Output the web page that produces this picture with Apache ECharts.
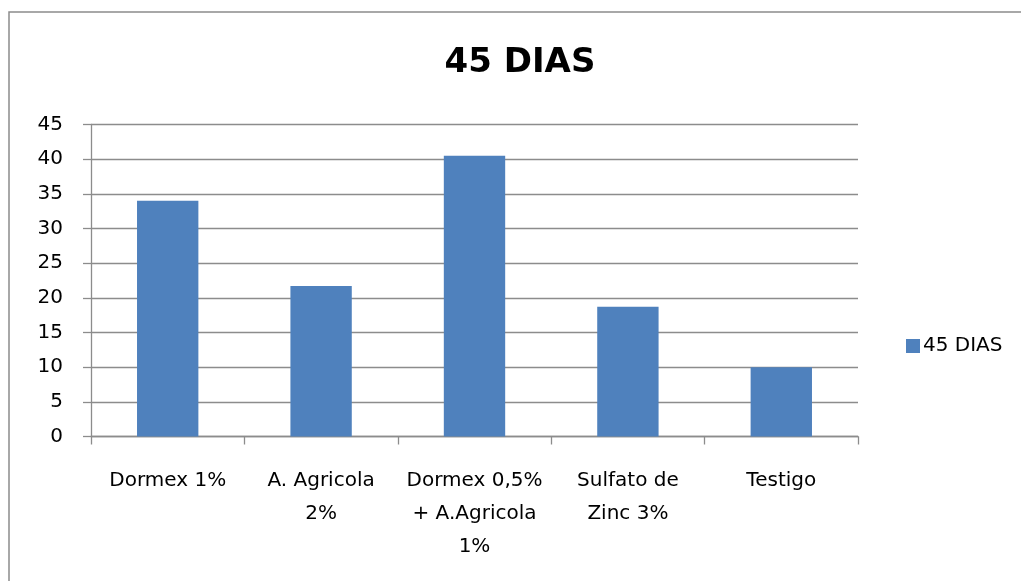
<!DOCTYPE html>
<html>
<head>
<meta charset="utf-8">
<script src="https://cdn.jsdelivr.net/npm/echarts@6/dist/echarts.min.js"></script>
<style>
html,body{margin:0;padding:0;background:#fff;}
#c{width:1021px;height:581px;}
</style>
</head>
<body>
<div id="c"></div>
<script>
var categories = ['Dormex 1%', 'A. Agricola\n2%', 'Dormex 0,5%\n+ A.Agricola\n1%', 'Sulfato de\nZinc 3%', 'Testigo'];
var seriesName = '45 DIAS';
var values = [34.0, 21.7, 40.5, 18.7, 10.0];
var yTicks = { min: 0, max: 45, interval: 5 };
var titleText = '45 DIAS';

var chart = echarts.init(document.getElementById('c'));
var font = 'DejaVu Sans';
chart.setOption({
  animation: false,
  backgroundColor: '#fff',
  graphic: [{
    type: 'rect', silent: true, z: -1,
    shape: { x: 9, y: 12, width: 1100, height: 700 },
    style: { fill: 'none', stroke: '#8c8c8c', lineWidth: 1.5 }
  }],
  title: {
    text: titleText,
    left: 515, top: 41, textAlign: 'center',
    textStyle: { fontFamily: font, fontWeight: 'bold', fontSize: 34, color: '#000' }
  },
  legend: {
    data: [seriesName],
    left: 901, top: 331,
    icon: 'rect', itemWidth: 14, itemHeight: 14, itemGap: 8,
    textStyle: { fontFamily: font, fontSize: 20, color: '#000', padding: [0, 0, 0, -2] }
  },
  grid: { left: 91, right: 163, top: 124.5, bottom: 144.5, containLabel: false },
  xAxis: {
    type: 'category',
    data: categories,
    axisLine: { lineStyle: { color: '#8c8c8c', width: 1.3 } },
    axisTick: { show: true, alignWithLabel: false, length: 8, lineStyle: { color: '#8c8c8c', width: 1.3 } },
    axisLabel: { interval: 0, margin: 28, fontFamily: font, fontSize: 20, lineHeight: 33, color: '#000' }
  },
  yAxis: {
    type: 'value',
    min: yTicks.min, max: yTicks.max, interval: yTicks.interval,
    axisLine: { show: true, lineStyle: { color: '#8c8c8c', width: 1.3 } },
    axisTick: { show: true, length: 8, inside: false, lineStyle: { color: '#8c8c8c', width: 1.3 } },
    splitLine: { lineStyle: { color: '#8c8c8c', width: 1.3 } },
    axisLabel: { margin: 28, fontFamily: font, fontSize: 20, color: '#000' }
  },
  series: [{
    name: seriesName,
    type: 'bar',
    data: values,
    barWidth: '40%',
    itemStyle: { color: '#4F81BD' }
  }]
});
</script>
</body>
</html>
